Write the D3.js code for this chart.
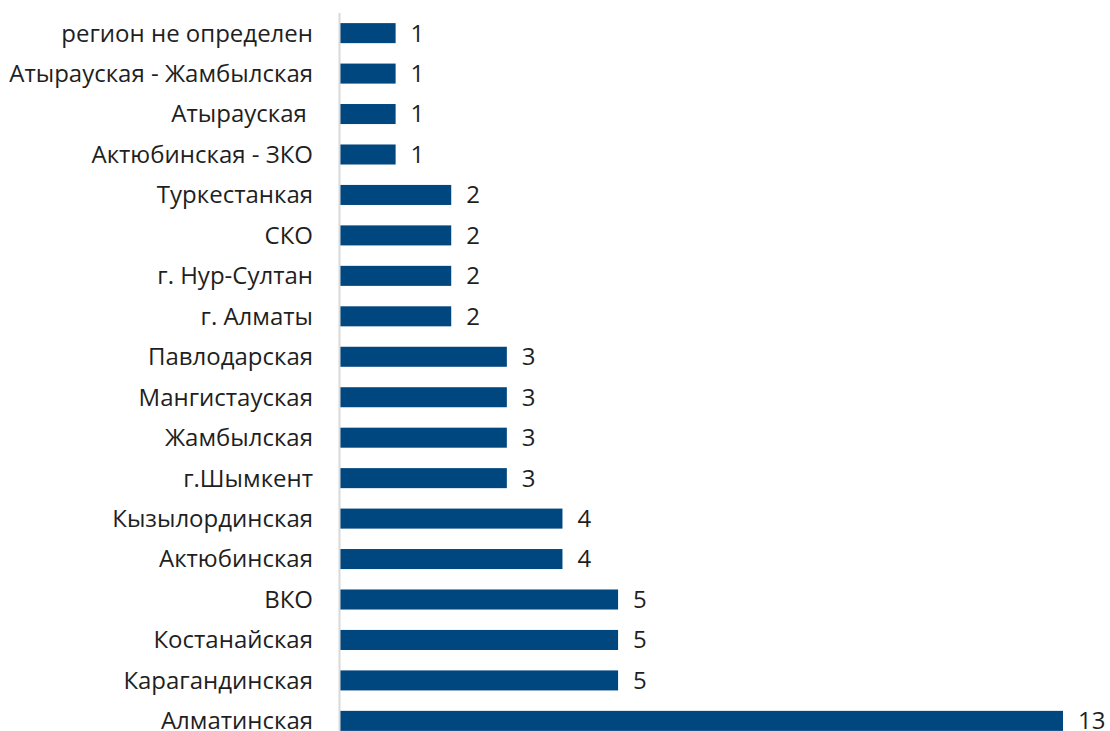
<!DOCTYPE html>
<html>
<head>
<meta charset="utf-8">
<script src="https://cdn.jsdelivr.net/npm/d3@7"></script>
<style>
  body { margin: 0; background: #fff; }
  svg { display: block; font-family: "Open Sans", sans-serif; }
</style>
</head>
<body>
<svg class="chart"></svg>
<script>
var regions = ["регион не определен", "Атырауская - Жамбылская", "Атырауская ", "Актюбинская - ЗКО",
  "Туркестанкая", "СКО", "г. Нур-Султан", "г. Алматы", "Павлодарская", "Мангистауская",
  "Жамбылская", "г.Шымкент", "Кызылординская", "Актюбинская", "ВКО", "Костанайская",
  "Карагандинская", "Алматинская"];
var counts = [1, 1, 1, 1, 2, 2, 2, 2, 3, 3, 3, 3, 4, 4, 5, 5, 5, 13];

var width = 1110;
var height = 731;
var barColor = "#00467f";
var textColor = "#1f1f1f";

var svg = d3.select(".chart")
  .attr("width", width)
  .attr("height", height);

var x = d3.scaleLinear()
  .domain([0, 13])
  .range([340, 1063]);

var y = d3.scaleBand()
  .domain(regions)
  .range([13, 741])
  .paddingInner(0.505)
  .paddingOuter(0.25);

// bars
svg.selectAll("rect.bar")
  .data(regions)
  .enter()
  .append("rect")
  .attr("class", "bar")
  .attr("x", x(0))
  .attr("y", function(d) { return y(d); })
  .attr("width", function(d, i) { return x(counts[i]) - x(0); })
  .attr("height", y.bandwidth())
  .style("fill", barColor);

// axis line
svg.append("line")
  .attr("x1", x(0) - 0.5)
  .attr("x2", x(0) - 0.5)
  .attr("y1", 13)
  .attr("y2", height)
  .style("stroke", "#d9d9d9")
  .style("stroke-width", 2);

// category labels
svg.selectAll("text.cat")
  .data(regions)
  .enter()
  .append("text")
  .attr("class", "cat")
  .attr("x", 313)
  .attr("y", function(d) { return y(d) + y.bandwidth() / 2; })
  .attr("dy", "0.35em")
  .attr("text-anchor", "end")
  .style("font-size", "24px")
  .style("fill", textColor)
  .style("white-space", "pre")
  .text(function(d) { return d; });

// value labels
svg.selectAll("text.val")
  .data(regions)
  .enter()
  .append("text")
  .attr("class", "val")
  .attr("x", function(d, i) { return x(counts[i]) + 15; })
  .attr("y", function(d) { return y(d) + y.bandwidth() / 2; })
  .attr("dy", "0.35em")
  .style("font-size", "24px")
  .style("fill", textColor)
  .text(function(d, i) { return counts[i]; });
</script>
</body>
</html>
